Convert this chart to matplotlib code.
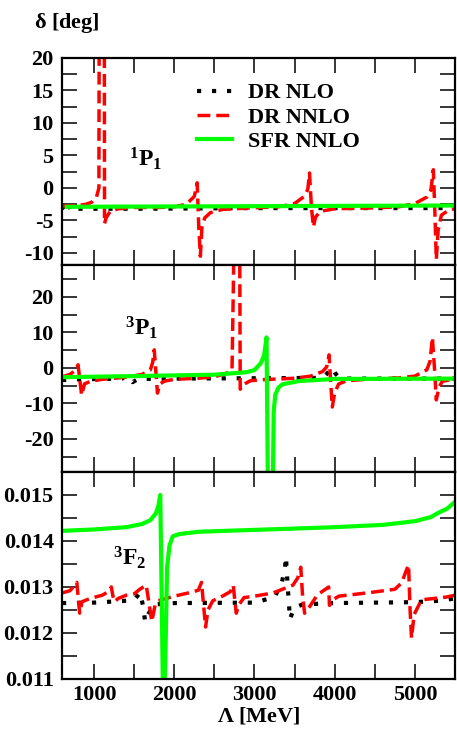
################################################################################
# Phase shifts 1P1, 3P1, 3F2 vs cutoff Lambda                                  #
################################################################################

import matplotlib
matplotlib.use('Agg')
import matplotlib.pyplot as plt
from matplotlib.ticker import MultipleLocator

plt.rcParams['font.family'] = ['Liberation Serif', 'DejaVu Serif']
plt.rcParams['font.weight'] = 'bold'
plt.rcParams['axes.labelweight'] = 'bold'
plt.rcParams['axes.unicode_minus'] = False
plt.rcParams['mathtext.fontset'] = 'custom'
plt.rcParams['mathtext.rm'] = 'Liberation Serif:bold'
plt.rcParams['mathtext.it'] = 'Liberation Serif:bold'
plt.rcParams['mathtext.bf'] = 'Liberation Serif:bold'
plt.rcParams['mathtext.default'] = 'rm'

# 1. Data ######################################################################

labels = ['DR NLO', 'DR NNLO', 'SFR NNLO']
panel_names = [r'$^{1}$P$_{1}$', r'$^{3}$P$_{1}$', r'$^{3}$F$_{2}$']

## 1P1 -------------------------------------------------------------------------
lam_1p1_nlo = [600, 640, 662, 690, 723, 760, 800, 1500, 3000, 4500, 5500]
d_1p1_nlo = [-3.2, -2.6, -1.9, -2.8, -3.7, -3.4, -3.2, -3.2, -3.1, -3.1, -3.1]

lam_1p1_nnlo = [600, 800, 900, 970, 1030, 1060, 1068, 1125, 1130, 1150, 1200,
                1300, 1500, 1800, 2000, 2150, 2250, 2285, 2305, 2325, 2345,
                2380, 2450, 2600, 2900, 3300, 3500, 3620, 3665, 3686, 3710,
                3735, 3760, 3820, 4000, 4400, 4800, 5000, 5150, 5200, 5230,
                5250, 5267, 5290, 5330, 5420, 5500]
d_1p1_nnlo = [-2.8, -2.7, -2.5, -2.2, -1.4, 0.0, 60, 60, -5.5, -4.6, -3.6,
              -3.2, -3.0, -3.0, -2.9, -2.5, -1.3, 0.8, -6.0, -10.5, -6.0,
              -4.6, -3.8, -3.3, -3.1, -2.9, -2.4, -1.3, -0.2, 2.3, -3.0,
              -6.0, -4.5, -3.6, -3.2, -3.1, -2.9, -2.4, -1.4, -0.3, 2.8,
              -4.0, -11.0, -6.5, -4.2, -3.4, -3.2]

lam_1p1_sfr = [660, 5500]
d_1p1_sfr = [-2.9, -2.7]

## 3P1 -------------------------------------------------------------------------
lam_3p1_nlo = [600, 800, 1350, 1400, 1440, 1480, 1550, 2000, 3000, 3800, 3870,
               3930, 3960, 3985, 4007, 4050, 4150, 4500, 5500]
d_3p1_nlo = [-3.4, -3.2, -3.0, -2.0, -3.0, -4.0, -3.1, -3.0, -2.9, -2.8, -2.4,
             -1.0, 0.1, -0.6, -1.5, -2.6, -3.0, -3.0, -3.0]

lam_3p1_nnlo = [600, 700, 760, 800, 820, 845, 880, 950, 1100, 1400, 1600, 1700,
                1730, 1750, 1770, 1790, 1820, 1880, 2000, 2300, 2500, 2650,
                2720, 2748, 2815, 2822, 2850, 2950, 3100, 3500, 3700, 3850,
                3900, 3930, 3950, 3970, 4000, 4050, 4150, 4400, 4800, 5000,
                5150, 5190, 5218, 5250, 5267, 5300, 5340, 5420, 5500]
d_3p1_nnlo = [-2.5, -1.8, -0.8, 0.9, -3.0, -7.7, -4.5, -3.8, -3.2, -2.6, -1.8,
              -0.6, 1.5, 5.1, -1.0, -7.1, -4.5, -3.7, -3.2, -2.9, -2.5, -1.5,
              -0.5, 40, 40, -6.0, -4.8, -3.6, -3.3, -2.9, -2.3, -1.0,
              0.3, 3.7, -4.0, -11.0, -7.0, -4.5, -3.6, -3.2, -2.8, -2.3,
              -0.5, 2.0, 8.6, -2.0, -9.0, -5.5, -3.8, -3.4, -3.3]

lam_3p1_sfr = [600, 1500, 2000, 2500, 2900, 3000, 3080, 3120, 3150, 3170, 3225,
               3240, 3260, 3300, 3350, 3550, 4000, 5500]
d_3p1_sfr = [-2.6, -2.3, -2.1, -1.9, -1.2, -0.6, 1.4, 3.5, 8.6, -40, -40,
             -12, -7.5, -5.5, -4.6, -3.7, -3.1, -3.0]

## 3F2 -------------------------------------------------------------------------
lam_3f2_nlo = [600, 1000, 1400, 1500, 1575, 1612, 1637, 1660, 1686, 1750, 2000,
               3000, 3250, 3340, 3378, 3392, 3415, 3428, 3442, 3480, 3514,
               3600, 4000, 5000, 5300, 5500]
d_3f2_nlo = [0.01265, 0.01266, 0.01270, 0.01272, 0.01288, 0.01257, 0.01224,
             0.01236, 0.01244, 0.01262, 0.01265, 0.01266, 0.01278, 0.01309,
             0.01338, 0.01366, 0.01298, 0.01268, 0.01230, 0.01248, 0.01256,
             0.01262, 0.01265, 0.01267, 0.01270, 0.01275]

lam_3f2_nnlo = [600, 700, 785, 800, 820, 850, 950, 1100, 1180, 1215, 1235,
                1255, 1300, 1400, 1500, 1570, 1650, 1680, 1720, 1760, 1800,
                1896, 2000, 2200, 2300, 2340, 2360, 2390, 2420, 2480, 2600,
                2700, 2735, 2755, 2773, 2800, 2870, 3000, 3230, 3480, 3540,
                3577, 3600, 3625, 3660, 3785, 3909, 3925, 3935, 3960, 4050,
                4400, 4750, 4835, 4880, 4921, 4940, 4958, 4990, 5082, 5390,
                5500]
d_3f2_nnlo = [0.01287, 0.01292, 0.01310, 0.01280, 0.01243, 0.01268, 0.01275,
              0.01282, 0.01290, 0.01300, 0.01280, 0.01268, 0.01275, 0.01282,
              0.01285, 0.01295, 0.01304, 0.01270, 0.01225, 0.01260, 0.01270,
              0.01275, 0.01280, 0.01288, 0.01293, 0.01310, 0.01270, 0.01213,
              0.01250, 0.01270, 0.01280, 0.01290, 0.01304, 0.01270, 0.01243,
              0.01260, 0.01277, 0.01280, 0.01287, 0.01304, 0.01320, 0.01343,
              0.01280, 0.01243, 0.01250, 0.01283, 0.01298, 0.01300, 0.01260,
              0.01270, 0.01280, 0.01287, 0.01295, 0.01309, 0.01330, 0.01348,
              0.01250, 0.01189, 0.01240, 0.01272, 0.01278, 0.01282]

lam_3f2_sfr = [600, 1000, 1400, 1600, 1700, 1770, 1800, 1825, 1845, 1860, 1875,
               1895, 1910, 1940, 1980, 2060, 2300, 2800, 3500, 4000, 4600,
               5000, 5200, 5300, 5400, 5500]
d_3f2_sfr = [0.01422, 0.01425, 0.01430, 0.01437, 0.01445, 0.01460, 0.01475,
             0.01500, 0.01250, 0.01050, 0.01050, 0.01200, 0.01343, 0.01390,
             0.01410, 0.01415, 0.01420, 0.01423, 0.01427, 0.01430, 0.01435,
             0.01443, 0.01452, 0.01462, 0.01470, 0.01485]

# 2. Figure ####################################################################

fig, axes = plt.subplots(3, 1, sharex=True, figsize=(4.57, 7.33), dpi=100)
fig.subplots_adjust(left=0.1357, right=0.9956, top=0.9209, bottom=0.0737,
                    hspace=0)

panels = [
    (lam_1p1_nlo, d_1p1_nlo, lam_1p1_nnlo, d_1p1_nnlo, lam_1p1_sfr, d_1p1_sfr),
    (lam_3p1_nlo, d_3p1_nlo, lam_3p1_nnlo, d_3p1_nnlo, lam_3p1_sfr, d_3p1_sfr),
    (lam_3f2_nlo, d_3f2_nlo, lam_3f2_nnlo, d_3f2_nnlo, lam_3f2_sfr, d_3f2_sfr),
]
ylims = [(-11.85, 20), (-29.3, 29), (0.011, 0.0155)]
ymaj = [5, 10, 0.001]
ymin = [2.5, 5, 0.0005]
name_pos = [(1430, 3.3), (1390, 9.3), (1230, 0.01348)]

for i, ax in enumerate(axes):
    lx1, y1, lx2, y2, lx3, y3 = panels[i]
    ax.plot(lx1, y1, color='black', lw=3, ls=(0, (1, 2.6)), label=labels[0])
    ax.plot(lx2, y2, color='#ff0000', lw=2.5, ls=(0, (3.7, 1.7)),
            label=labels[1])
    ax.plot(lx3, y3, color='#00ff00', lw=3, label=labels[2])
    ax.set_xlim(600, 5500)
    ax.set_ylim(*ylims[i])
    ax.xaxis.set_major_locator(MultipleLocator(1000))
    ax.xaxis.set_minor_locator(MultipleLocator(500))
    ax.yaxis.set_major_locator(MultipleLocator(ymaj[i]))
    ax.yaxis.set_minor_locator(MultipleLocator(ymin[i]))
    ax.tick_params(which='both', direction='in', top=True, right=True,
                   length=11, width=1.1, labelsize=16)
    ax.tick_params(axis='y', pad=6)
    ax.tick_params(axis='x', pad=4)
    for s in ax.spines.values():
        s.set_linewidth(1.6)
    ax.text(name_pos[i][0], name_pos[i][1], panel_names[i], fontsize=17,
            ha='left', va='baseline')

axes[2].set_xlabel(r'$\Lambda$ [MeV]', fontsize=16, labelpad=1)
fig.text(0.075, 0.962, r'$\delta$ [deg]', fontsize=16, ha='left',
         va='baseline')

axes[0].legend(loc='upper left', bbox_to_anchor=(0.343, 0.88), frameon=False,
               fontsize=16, handlelength=1.6, handletextpad=0.7,
               labelspacing=0.17, borderpad=0, borderaxespad=0)

plt.savefig('out.png', dpi=100)
